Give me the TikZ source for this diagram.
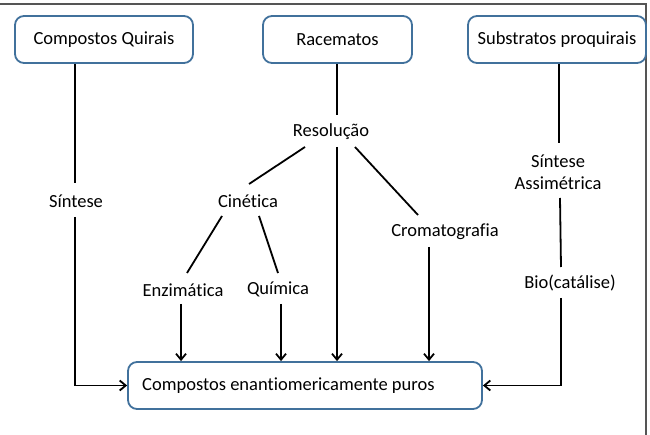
\documentclass[tikz,border=0pt]{standalone}
\usepackage{fontspec}
\setmainfont{Carlito}[Ligatures=CommonOff]
\usetikzlibrary{arrows.meta,calc}
\definecolor{boxblue}{HTML}{41719C}
\definecolor{framegray}{HTML}{555555}
\begin{document}
\begin{tikzpicture}[x=1pt,y=-1pt,
  every node/.style={font=\fontsize{18.5}{22}\selectfont},
  box/.style={draw=boxblue,line width=1.8pt,rounded corners=9pt,fill=white,minimum height=47pt,inner sep=0pt},
  lbl/.style={inner sep=0pt,align=center},
  ln/.style={line width=1.8pt,black},
  arr/.style={ln,-{Straight Barb[length=6pt,width=10pt,line width=1.8pt]}},
  frameln/.style={line width=2pt,framegray}]
\useasboundingbox (0,0) rectangle (650,435);
\draw[frameln] (0,4) -- (646,4) -- (646,435);
% boxes
\node[box,minimum width=178pt] (q1) at (104,39.5) {Compostos Quirais};
\node[box,minimum width=149pt] (rac) at (337.5,39.5) {Racematos};
\node[box,minimum width=178pt] (sub) at (557,39.5) {Substratos proquirais};
\node[box,minimum width=354pt] (bot) at (305,385.5) {};
\node[lbl,anchor=west] (bottxt) at (142,385.5) {Compostos enantiomericamente puros};
% labels
\node[lbl] (sint1) at (76,201) {Síntese};
\node[lbl] (res) at (331,132) {Resolução};
\node[lbl] (cin) at (248,201) {Cinética};
\node[lbl] (enz) at (183,290) {Enzimática};
\node[lbl] (qui) at (278,289) {Química};
\node[lbl] (crom) at (445,232) {Cromatografia};
\node[lbl] (sa) at (558,172) {Síntese\\Assimétrica};
\node[lbl] (bio) at (570,283) {Bio(catálise)};
% connector end points
\coordinate (s1a) at ($(sint1)+(-1,-18)$);
\coordinate (s1b) at ($(sint1)+(-1,16)$);
\coordinate (ra) at ($(res)+(6,-17)$);
\coordinate (rb) at ($(res)+(6,15)$);
\coordinate (rl) at ($(res)+(-26,15)$);
\coordinate (rr) at ($(res)+(24,15)$);
\coordinate (ct) at ($(cin)+(1,-17)$);
\coordinate (cl) at ($(cin)+(-26,15)$);
\coordinate (cr) at ($(cin)+(11,15)$);
\coordinate (et) at ($(enz)+(4,-17)$);
\coordinate (eb) at ($(enz)+(-2,14)$);
\coordinate (qt) at ($(qui)+(0,-16)$);
\coordinate (qb) at ($(qui)+(3,15)$);
\coordinate (crt) at ($(crom)+(-27,-17)$);
\coordinate (crb) at ($(crom)+(-16,15)$);
\coordinate (sat) at ($(sa)+(1,-29)$);
\coordinate (sab) at ($(sa)+(2,26)$);
\coordinate (bt) at ($(bio)+(-9,-16)$);
\coordinate (bb) at ($(bio)+(-9,15)$);
% left branch
\draw[ln] (q1.south -| s1a) -- (s1a);
\draw[arr] (s1b) |- (bot.west);
% middle
\draw[ln] (rac.south -| ra) -- (ra);
\draw[arr] (rb) -- (rb |- bot.north);
\draw[ln] (rl) -- (ct);
\draw[ln] (rr) -- (crt);
\draw[ln] (cl) -- (et);
\draw[ln] (cr) -- (qt);
\draw[arr] (eb) -- (eb |- bot.north);
\draw[arr] (qb) -- (qb |- bot.north);
\draw[arr] (crb) -- (crb |- bot.north);
% right branch
\draw[ln] (sub.south -| sat) -- (sat);
\draw[ln] (sab) -- (bt);
\draw[arr] (bb) |- (bot.east);
\end{tikzpicture}
\end{document}
